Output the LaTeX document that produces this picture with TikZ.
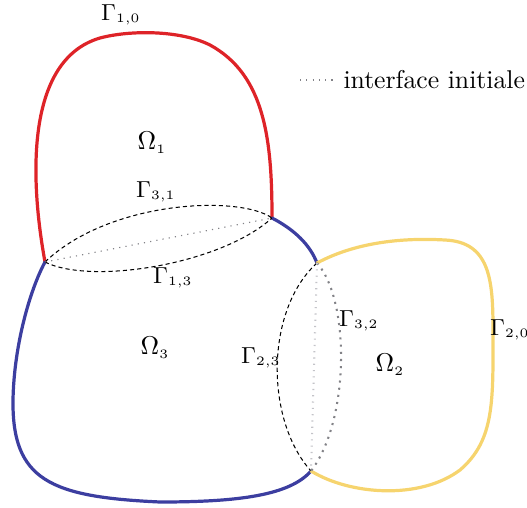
\documentclass[tikz,border=0pt]{standalone}
\usetikzlibrary{calc}
\definecolor{cred}{RGB}{222,35,40}
\definecolor{cblue}{RGB}{60,62,160}
\definecolor{cyellow}{RGB}{246,212,110}
\definecolor{cgray}{RGB}{130,130,135}
\definecolor{clight}{RGB}{195,195,200}
\tikzset{
  bord/.style={line width=1.25pt, line join=round, line cap=round},
  iface/.style={line width=0.4pt, dash pattern=on 1.6pt off 1.2pt, black},
  init/.style={line width=0.45pt, dotted},
  lab/.style={inner sep=0pt, font=\normalsize},
  glab/.style={inner sep=0pt, font=\small}
}
\newcommand{\sbs}[1]{_{\scriptscriptstyle #1}}
\begin{document}
\begin{tikzpicture}[x=0.389pt,y=-0.389pt]
\useasboundingbox (0,0) rectangle (527,507);
\coordinate (J1) at (45,262);
\coordinate (J2) at (272,218);
\coordinate (J3) at (317,263);
\coordinate (J4) at (311,471);
% Gamma_{1,0}
\draw[bord, cred] (J1) .. controls (30,180) and (25,60) .. (100,38)
  .. controls (130,30) and (180,30) .. (210,45)
  .. controls (265,75) and (272,140) .. (J2);
% blue boundary
\draw[bord, cblue] (J1) .. controls (30,290) and (14,345) .. (13,400)
  .. controls (12,480) and (50,497) .. (160,502)
  .. controls (240,502) and (290,495) .. (J4);
\draw[bord, cblue] (J2) .. controls (295,230) and (310,245) .. (J3);
% yellow boundary
\draw[bord, cyellow] (J3) .. controls (360,240) and (410,238) .. (445,240)
  .. controls (490,242) and (493,280) .. (493,330)
  .. controls (493,400) and (495,440) .. (460,470)
  .. controls (420,500) and (350,495) .. (J4);
% interfaces
\draw[iface] (J1) .. controls (110,200) and (240,195) .. (J2);
\draw[iface] (J1) .. controls (90,285) and (220,265) .. (J2);
\draw[iface] (J3) .. controls (265,310) and (265,420) .. (J4);
\draw[line width=0.8pt, cgray, dotted] (J3) .. controls (350,300) and (350,420) .. (J4);
% initial interfaces
\draw[init, cgray] (J1) -- (J2);
\draw[init, clight, line width=0.8pt] (J3) -- (J4);
% labels
\node[lab] (O1) at (152,143) {$\Omega\sbs{1}$};
\node[lab] (O3) at (155,348) {$\Omega\sbs{3}$};
\node[lab] (O2) at (390,365) {$\Omega\sbs{2}$};
\node[glab] (G10) at (121,15) {$\Gamma\sbs{1,0}$};
\node[glab] (G31) at (156,192) {$\Gamma\sbs{3,1}$};
\node[glab] (G13) at (173,278) {$\Gamma\sbs{1,3}$};
\node[glab] (G23) at (261,358) {$\Gamma\sbs{2,3}$};
\node[glab] (G32) at (359,321) {$\Gamma\sbs{3,2}$};
\node[glab] (G20) at (510,330) {$\Gamma\sbs{2,0}$};
% legend
\coordinate (L1) at (300,80);
\node[lab, anchor=west] (leg) at (343,80) {interface initiale};
\draw[init, cgray] (L1) -- ($(leg.west)+(-8,0)$);
\end{tikzpicture}
\end{document}
